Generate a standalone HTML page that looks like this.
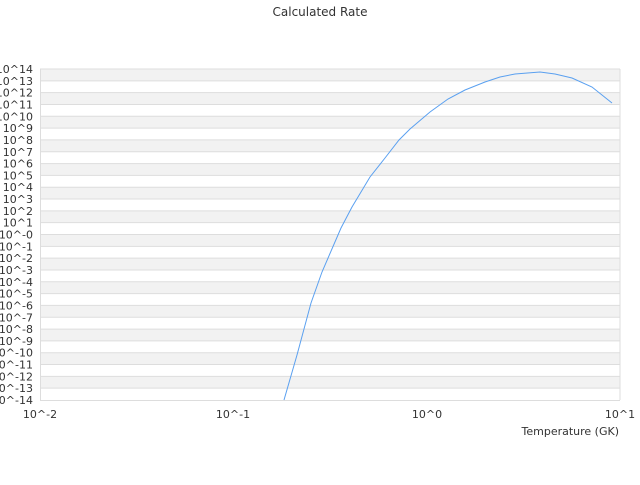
<!DOCTYPE html>
<html><head><style>
body{margin:0;background:#fff;width:640px;height:480px;overflow:hidden}
svg text{font-family:"DejaVu Sans","Liberation Sans",sans-serif;fill:#333}
</style></head><body>
<svg width="640" height="480" xmlns="http://www.w3.org/2000/svg">
<text x="320" y="16" font-size="12" text-anchor="middle">Calculated Rate</text>
<g fill="#f2f2f2">
<rect x="40" y="69" width="580" height="11.82"/>
<rect x="40" y="92.64" width="580" height="11.82"/>
<rect x="40" y="116.29" width="580" height="11.82"/>
<rect x="40" y="139.93" width="580" height="11.82"/>
<rect x="40" y="163.57" width="580" height="11.82"/>
<rect x="40" y="187.21" width="580" height="11.82"/>
<rect x="40" y="210.86" width="580" height="11.82"/>
<rect x="40" y="234.5" width="580" height="11.82"/>
<rect x="40" y="258.14" width="580" height="11.82"/>
<rect x="40" y="281.79" width="580" height="11.82"/>
<rect x="40" y="305.43" width="580" height="11.82"/>
<rect x="40" y="329.07" width="580" height="11.82"/>
<rect x="40" y="352.71" width="580" height="11.82"/>
<rect x="40" y="376.36" width="580" height="11.82"/>
</g>
<g stroke="#ddd" stroke-width="1">
<line x1="40" x2="620" y1="69" y2="69"/><line x1="40" x2="620" y1="80.82" y2="80.82"/><line x1="40" x2="620" y1="92.64" y2="92.64"/><line x1="40" x2="620" y1="104.46" y2="104.46"/><line x1="40" x2="620" y1="116.29" y2="116.29"/><line x1="40" x2="620" y1="128.11" y2="128.11"/><line x1="40" x2="620" y1="139.93" y2="139.93"/><line x1="40" x2="620" y1="151.75" y2="151.75"/><line x1="40" x2="620" y1="163.57" y2="163.57"/><line x1="40" x2="620" y1="175.39" y2="175.39"/><line x1="40" x2="620" y1="187.21" y2="187.21"/><line x1="40" x2="620" y1="199.04" y2="199.04"/><line x1="40" x2="620" y1="210.86" y2="210.86"/><line x1="40" x2="620" y1="222.68" y2="222.68"/><line x1="40" x2="620" y1="234.5" y2="234.5"/><line x1="40" x2="620" y1="246.32" y2="246.32"/><line x1="40" x2="620" y1="258.14" y2="258.14"/><line x1="40" x2="620" y1="269.96" y2="269.96"/><line x1="40" x2="620" y1="281.79" y2="281.79"/><line x1="40" x2="620" y1="293.61" y2="293.61"/><line x1="40" x2="620" y1="305.43" y2="305.43"/><line x1="40" x2="620" y1="317.25" y2="317.25"/><line x1="40" x2="620" y1="329.07" y2="329.07"/><line x1="40" x2="620" y1="340.89" y2="340.89"/><line x1="40" x2="620" y1="352.71" y2="352.71"/><line x1="40" x2="620" y1="364.54" y2="364.54"/><line x1="40" x2="620" y1="376.36" y2="376.36"/><line x1="40" x2="620" y1="388.18" y2="388.18"/><line x1="40" x2="620" y1="400.5" y2="400.5"/>
<line x1="40.5" y1="69" x2="40.5" y2="400" />
<line x1="620" y1="69" x2="620" y2="400" />
</g>
<g font-size="11" text-anchor="end">
<text x="33" y="73">10^14</text><text x="33" y="84.8">10^13</text><text x="33" y="96.6">10^12</text><text x="33" y="108.5">10^11</text><text x="33" y="120.3">10^10</text><text x="33" y="132.1">10^9</text><text x="33" y="143.9">10^8</text><text x="33" y="155.8">10^7</text><text x="33" y="167.6">10^6</text><text x="33" y="179.4">10^5</text><text x="33" y="191.2">10^4</text><text x="33" y="203">10^3</text><text x="33" y="214.9">10^2</text><text x="33" y="226.7">10^1</text><text x="33" y="238.5">10^-0</text><text x="33" y="250.3">10^-1</text><text x="33" y="262.1">10^-2</text><text x="33" y="274">10^-3</text><text x="33" y="285.8">10^-4</text><text x="33" y="297.6">10^-5</text><text x="33" y="309.4">10^-6</text><text x="33" y="321.3">10^-7</text><text x="33" y="333.1">10^-8</text><text x="33" y="344.9">10^-9</text><text x="33" y="356.7">10^-10</text><text x="33" y="368.5">10^-11</text><text x="33" y="380.4">10^-12</text><text x="33" y="392.2">10^-13</text><text x="33" y="404">10^-14</text>
</g>
<text x="40" y="418" font-size="11" text-anchor="middle">10^-2</text>
<text x="233" y="418" font-size="11" text-anchor="middle">10^-1</text>
<text x="427" y="418" font-size="11" text-anchor="middle">10^0</text>
<text x="620" y="418" font-size="11" text-anchor="middle">10^1</text>
<text x="619" y="435" font-size="11" text-anchor="end">Temperature (GK)</text>
<polyline fill="none" stroke="#5aa0f0" stroke-width="1" points="284,400 297,355 311,303 322,272 341,228 352,207 370,177 385,158 399,140 410,129 430,112 448,99 465,90 485,82 500,77 515,74 540,72 555,74 572,78 592,87 612,103"/>
</svg>
</body></html>
